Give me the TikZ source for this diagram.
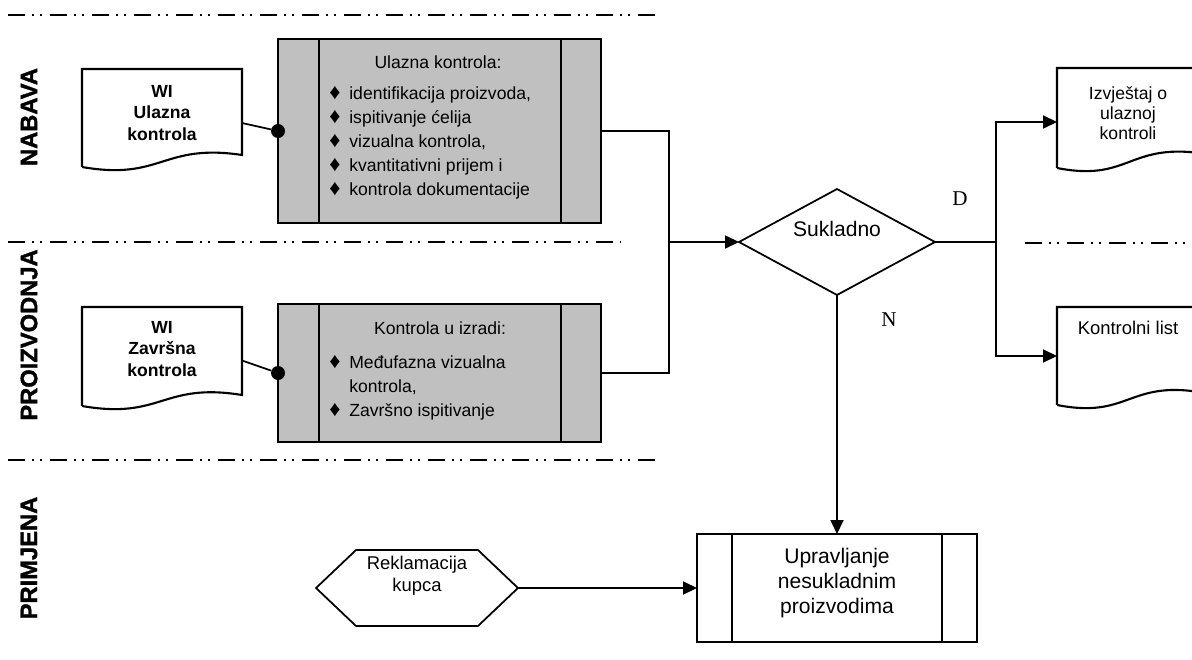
\documentclass[tikz,border=0pt]{standalone}
\usepackage{fontspec}
\setmainfont{Liberation Sans}
\newfontfamily\timesfont{Liberation Serif}
\newfontfamily\lanefont{Liberation Sans}[BoldFeatures={FakeBold=1.4}]
\usetikzlibrary{positioning,calc,shapes.geometric,arrows.meta}

\definecolor{boxgray}{RGB}{192,192,192}
\newcommand{\bul}{{\fontsize{12.5}{13.6}\selectfont ♦}}

\tikzset{
	frame/.style={line width=1.2pt},
	conn/.style={line width=1pt},
	arrow/.style={conn, -{Triangle[length=0.28cm,width=0.26cm]}},
	lane/.style={line width=0.8pt, dash pattern=on 0.34cm off 0.14cm on 0.04cm off 0.12cm on 0.04cm off 0.16cm},
	predef/.style={rectangle, draw, frame, fill=boxgray, minimum width=6.46cm, inner sep=0, outer sep=0},
	docbox/.style={rectangle, inner sep=0, outer sep=0},
	dot/.style={circle, fill=black, minimum size=0.28cm, inner sep=0},
	lanelabel/.style={rotate=90, font=\lanefont\fontsize{13.5}{16}\selectfont\bfseries},
	doctext/.style={align=center, inner sep=0, font=\fontsize{10.5}{11.6}\selectfont},
	boxtext/.style={align=center, inner sep=0, font=\fontsize{10}{13.6}\selectfont},
	listtext/.style={anchor=west, inner sep=0, font=\fontsize{10}{13.6}\selectfont},
	bigtext/.style={align=center, inner sep=0, font=\fontsize{12}{14}\selectfont},
	yesno/.style={inner sep=0, font=\timesfont\fontsize{12}{14}\selectfont}
}

% document with wavy bottom
\newcommand{\docframe}[2]{%
	\draw[frame] (#1.south west) -- (#1.north west) -- (#1.north east) -- ($(#1.south east)+(0,-#2)$)
		.. controls ($(#1.south)+(0,-24)$) and ($(#1.south)+(0,14)$) .. (#1.south west);}
% inner side bars of a predefined process
\newcommand{\predefbars}[3]{%
	\draw[frame] ($(#1.north west)+(#2,0)$) -- ($(#1.south west)+(#2,0)$);
	\draw[frame] ($(#1.north east)+(-#3,0)$) -- ($(#1.south east)+(-#3,0)$);}
% hexagon outline
\newcommand{\hexframe}[2]{%
	\draw[conn] (#1.west) -- ($(#1.north west)+(#2,0)$) -- ($(#1.north east)+(-#2,0)$) -- (#1.east)
		-- ($(#1.south east)+(-#2,0)$) -- ($(#1.south west)+(#2,0)$) -- cycle;}

\begin{document}
\begin{tikzpicture}[x=0.02cm, y=-0.02cm]
	\useasboundingbox (0,0) rectangle (1192,659);
	
	% lanes
	\draw[lane] (8,15) -- (655,15);
	\draw[lane] (8,242) -- (620,242);
	\draw[lane] (1025,243) -- (1192,243);
	\draw[lane] (8,460) -- (655,460);
	\node[lanelabel] (nabava) at (29,117) {NABAVA};
	\node[lanelabel] (proizvodnja) at (29,335) {PROIZVODNJA};
	\node[lanelabel] (primjena) at (29,558) {PRIMJENA};
	
	% NABAVA
	\node[docbox, minimum width=3.2cm, minimum height=1.96cm] (wiUlaz) at (162,118) {};
	\docframe{wiUlaz}{12}
	\node[doctext, font=\bfseries] (wiUlazT) at (162,113) {WI\\Ulazna\\kontrola};
	
	\node[predef, minimum height=3.68cm] (ulaz) at (439.5,131) {};
	\predefbars{ulaz}{41}{40}
	\node[boxtext] (ulazT) at (438,62) {Ulazna kontrola:};
	\node[listtext] (ulazL) at (329,143) {\begin{tabular}{@{}l@{\hspace{5pt}}l@{}}
		\bul & identifikacija proizvoda,\\
		\bul & ispitivanje ćelija\\
		\bul & vizualna kontrola,\\
		\bul & kvantitativni prijem i\\
		\bul & kontrola dokumentacije
	\end{tabular}};
	\node[dot] (dotUlaz) at (ulaz.west) {};
	\draw[conn] ($(wiUlaz.east)+(0,5)$) -- (dotUlaz);
	
	% PROIZVODNJA
	\node[docbox, minimum width=3.2cm, minimum height=1.98cm] (wiZavr) at (162,356.5) {};
	\docframe{wiZavr}{11}
	\node[doctext, font=\bfseries] (wiZavrT) at (162,349) {WI\\Završna\\kontrola};
	
	\node[predef, minimum height=2.76cm] (izrada) at (439.5,373) {};
	\predefbars{izrada}{41}{40}
	\node[boxtext] (izradaT) at (440,328) {Kontrola u izradi:};
	\node[listtext] (izradaL) at (329,388) {\begin{tabular}{@{}l@{\hspace{5pt}}l@{}}
		\bul & Međufazna vizualna\\
		     & kontrola,\\
		\bul & Završno ispitivanje
	\end{tabular}};
	\node[dot] (dotZavr) at (izrada.west) {};
	\draw[conn] ($(wiZavr.east)+(0,4)$) -- (dotZavr);
	
	% decision
	\node[diamond, draw, conn, minimum width=3.92cm, minimum height=2.12cm, inner sep=0, outer sep=0] (sukl) at (837,242) {};
	\node[bigtext] (suklT) at (837,229) {Sukladno};
	\node[yesno] (dLbl) at (960,199) {D};
	\node[yesno] (nLbl) at (889,320) {N};
	
	\node[docbox, minimum width=2.84cm, minimum height=2cm] (izvj) at (1128,118) {};
	\docframe{izvj}{15}
	\node[doctext, font=\fontsize{10}{11.4}\selectfont] (izvjT) at (1128,113) {Izvještaj o\\ulaznoj\\kontroli};
	
	\node[docbox, minimum width=2.84cm, minimum height=1.96cm] (klist) at (1128,356) {};
	\docframe{klist}{13}
	\node[doctext] (klistT) at (1128,328) {Kontrolni list};
	
	% PRIMJENA
	\node[docbox, minimum width=4.04cm, minimum height=1.52cm] (rekl) at (417,588) {};
	\hexframe{rekl}{40}
	\node[doctext, font=\fontsize{10.5}{12.5}\selectfont] (reklT) at (417,576) {Reklamacija\\kupca};
	
	\node[predef, fill=white, minimum width=5.6cm, minimum height=2.16cm] (upr) at (837,588) {};
	\predefbars{upr}{35}{35}
	\node[bigtext] (uprT) at (837,583) {Upravljanje\\nesukladnim\\proizvodima};
	
	% connectors
	\coordinate (join) at (669,242);
	\coordinate (fork) at (996,242);
	\draw[conn] (ulaz.east) -| (join) |- (izrada.east);
	\draw[arrow] (join) -- (sukl.west);
	\draw[conn] (sukl.east) -- (fork);
	\draw[arrow] (fork) |- ($(izvj.west)+(0,4)$);
	\draw[arrow] (fork) |- (klist.west);
	\draw[arrow] (sukl.south) -- (upr.north);
	\draw[arrow] (rekl.east) -- (upr.west);
	
\end{tikzpicture}
\end{document}
